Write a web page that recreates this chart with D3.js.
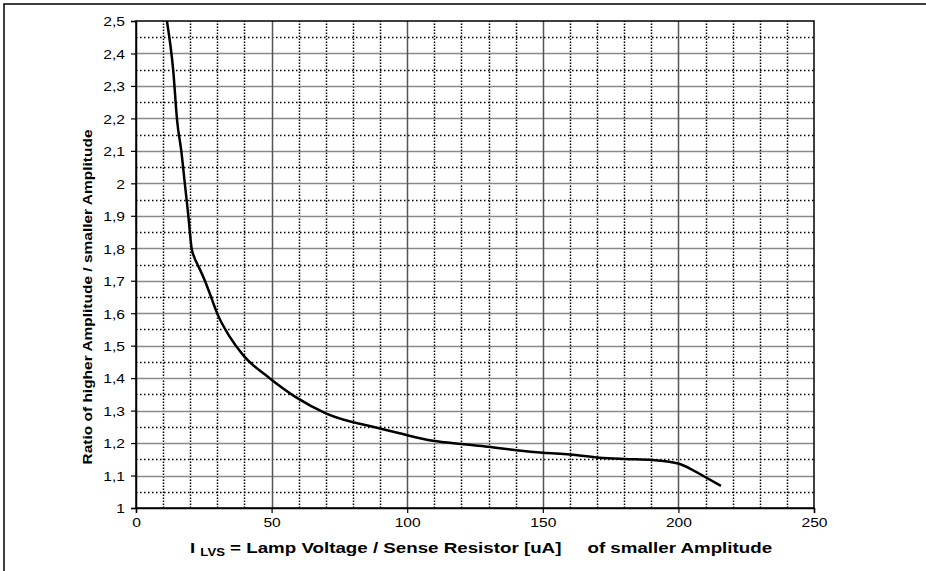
<!DOCTYPE html>
<html>
<head>
<meta charset="utf-8">
<script src="https://cdn.jsdelivr.net/npm/d3@7"></script>
<style>
  body { margin: 0; background: #fff; }
  svg { display: block; font-family: "Liberation Sans", Arial, sans-serif; }
</style>
</head>
<body>
<svg id="chart" width="926" height="571"></svg>
<script>
// -- Data --
const currentUA = [11.4, 13.7, 15.2, 16.7, 18.0, 19.3, 20.5, 21.5, 23.0, 25.4, 27.9, 29.7, 34.6, 39.5, 49.4, 59.2, 70.2, 89.9, 97.2, 109.5, 120, 129.8, 140.2, 150, 159.9, 170.9, 180.1, 190.5, 199.9, 205.3, 210.2, 215.7];
const ratio = [2.5, 2.35, 2.19, 2.10, 2.00, 1.90, 1.80, 1.772, 1.745, 1.70, 1.645, 1.604, 1.527, 1.471, 1.399, 1.34, 1.291, 1.245, 1.230, 1.207, 1.197, 1.189, 1.178, 1.170, 1.165, 1.155, 1.151, 1.148, 1.137, 1.117, 1.094, 1.068];

const xTicks = [0, 50, 100, 150, 200, 250];
const yTicks = [1, 1.1, 1.2, 1.3, 1.4, 1.5, 1.6, 1.7, 1.8, 1.9, 2, 2.1, 2.2, 2.3, 2.4, 2.5];
const xMinor = d3.range(10, 250, 10).filter(v => v % 50 !== 0);
const yMinor = d3.range(1.05, 2.5, 0.1);

const svg = d3.select("#chart");

// -- Layout --
const margin = { left: 136, right: 112, top: 21, bottom: 63 };
const width = 926, height = 571;

const x = d3.scaleLinear().domain([0, 250]).range([margin.left, width - margin.right]);
const y = d3.scaleLinear().domain([1, 2.5]).range([height - margin.bottom, margin.top]);

// outer frame (top + left only)
svg.append("path")
    .attr("d", `M4,${height} L4,4 L${width},4`)
    .attr("fill", "none")
    .attr("stroke", "#000")
    .attr("stroke-width", 1.5);

const grid = svg.append("g");

// minor dotted gridlines
grid.selectAll(".ymin").data(yMinor).enter().append("line")
    .attr("x1", x(0)).attr("x2", x(250))
    .attr("y1", d => Math.round(y(d)) + 0.5).attr("y2", d => Math.round(y(d)) + 0.5)
    .attr("stroke", "#000").attr("stroke-width", 1.5)
    .attr("stroke-dasharray", "1.5,2.5");

grid.selectAll(".xmin").data(xMinor).enter().append("line")
    .attr("x1", d => Math.round(x(d)) + 0.5).attr("x2", d => Math.round(x(d)) + 0.5)
    .attr("y1", y(1)).attr("y2", y(2.5))
    .attr("stroke", "#000").attr("stroke-width", 1.5)
    .attr("stroke-dasharray", "1.5,1.5");

// major gridlines
grid.selectAll(".ymaj").data(yTicks.slice(1, -1)).enter().append("line")
    .attr("x1", x(0)).attr("x2", x(250))
    .attr("y1", d => Math.round(y(d)) + 0.5).attr("y2", d => Math.round(y(d)) + 0.5)
    .attr("stroke", "#8a8a8a").attr("stroke-width", 1.5);

grid.selectAll(".xmaj").data(xTicks.slice(1, -1)).enter().append("line")
    .attr("x1", d => Math.round(x(d)) + 0.5).attr("x2", d => Math.round(x(d)) + 0.5)
    .attr("y1", y(1)).attr("y2", y(2.5))
    .attr("stroke", "#555").attr("stroke-width", 1.5);

// plot border
svg.append("rect")
    .attr("x", x(0)).attr("y", y(2.5))
    .attr("width", x(250) - x(0)).attr("height", y(1) - y(2.5))
    .attr("fill", "none").attr("stroke", "#000").attr("stroke-width", 1.5);

// -- Axes --
const fmt = d => String(d).replace(".", ",");

const xAxis = svg.append("g")
    .attr("transform", `translate(0,${y(1)})`)
    .call(d3.axisBottom(x).tickValues(xTicks).tickSize(5).tickFormat(fmt));

const yAxis = svg.append("g")
    .attr("transform", `translate(${x(0)},0)`)
    .call(d3.axisLeft(y).tickValues(yTicks).tickSize(5).tickFormat(fmt));

[xAxis, yAxis].forEach(a => {
    a.select(".domain").attr("stroke", "#000").attr("stroke-width", 1.5);
    a.selectAll(".tick line").attr("stroke", "#000").attr("stroke-width", 1.2);
    a.selectAll("text")
        .attr("font-family", "Liberation Sans, Arial, sans-serif")
        .attr("font-size", 12)
        .attr("fill", "#000");
});

// the source font is drawn wider than Arial, so stretch labels horizontally
xAxis.selectAll(".tick text")
    .attr("y", 0).attr("dy", "0.71em")
    .attr("transform", "translate(0,10) scale(1.3,1)");
yAxis.selectAll(".tick text")
    .attr("x", 0)
    .attr("transform", "translate(-11,1) scale(1.3,1)");

// -- Curve --
const points = currentUA.map((v, i) => [v, ratio[i]]);
svg.append("path")
    .datum(points)
    .attr("fill", "none")
    .attr("stroke", "#000")
    .attr("stroke-width", 2.5)
    .attr("stroke-linejoin", "round")
    .attr("d", d3.line().x(d => x(d[0])).y(d => y(d[1])).curve(d3.curveMonotoneX));

// -- Titles --
svg.append("text")
    .attr("transform", `translate(92,297) rotate(-90)`)
    .attr("text-anchor", "middle")
    .attr("font-weight", "bold")
    .attr("font-size", 13)
    .attr("textLength", 335)
    .attr("lengthAdjust", "spacingAndGlyphs")
    .text("Ratio of higher Amplitude / smaller Amplitude");

const xt = svg.append("text")
    .attr("transform", "translate(481,553) scale(1.25,1)")
    .attr("text-anchor", "middle")
    .attr("font-weight", "bold")
    .attr("font-size", 15)
    .attr("xml:space", "preserve");
xt.append("tspan").text("I ");
xt.append("tspan").attr("font-size", 10.5).attr("dy", 3).text("LVS");
xt.append("tspan").attr("dy", -3).text(" = Lamp Voltage / Sense Resistor [uA]     of smaller Amplitude");
</script>
</body>
</html>
